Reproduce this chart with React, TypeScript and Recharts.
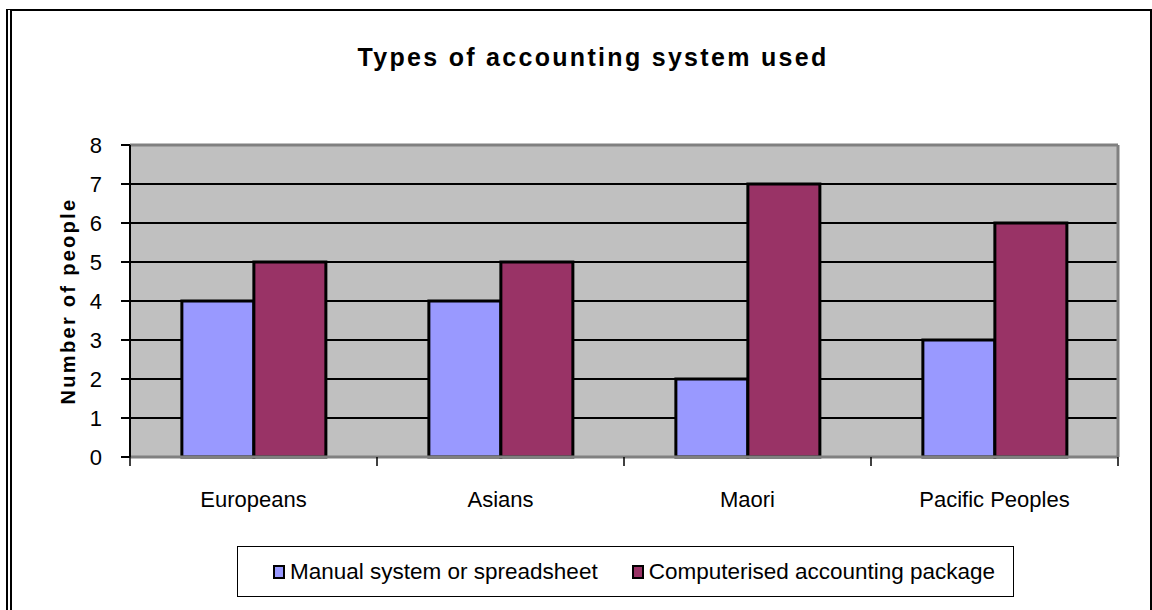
import React from "react";
import { Bar, BarChart, CartesianGrid, XAxis, YAxis } from "recharts";

const groups = ["Europeans", "Asians", "Maori", "Pacific Peoples"];
const manualSystem = [4, 4, 2, 3];
const computerised = [5, 5, 7, 6];
const countTicks = [0, 1, 2, 3, 4, 5, 6, 7, 8];

const FONT = '"Liberation Sans", Arial, sans-serif';
const BLUE = "#9999FF";
const PLUM = "#993366";

const data = groups.map((g, i) => ({
  group: g,
  manual: manualSystem[i],
  computer: computerised[i],
}));

// group label plus short tick marks on the band boundaries
function GroupTick(props: any) {
  const { x, y, payload, index, visibleTicksCount } = props;
  const half = payload?.offset ?? 0;
  const mark = (px: number, key: string) => (
    <line key={key} x1={px} x2={px} y1={y} y2={y + 9} stroke="#000" strokeWidth={1.5} />
  );
  return (
    <g>
      {mark(x - half, "l")}
      {index === visibleTicksCount - 1 ? mark(x + half, "r") : null}
      <text
        x={x}
        y={y + 34}
        dy="0.71em"
        textAnchor="middle"
        fontSize={22}
        fontFamily={FONT}
        fill="#000"
      >
        {payload.value}
      </text>
    </g>
  );
}

function LegendItem({ color, label }: { color: string; label: string }) {
  return (
    <span style={{ display: "inline-flex", alignItems: "center" }}>
      <span
        style={{
          display: "inline-block",
          width: 8,
          height: 10,
          background: color,
          border: "2px solid #000",
          marginRight: 5,
        }}
      />
      <span>{label}</span>
    </span>
  );
}

export default function App() {
  return (
    <div
      style={{
        position: "absolute",
        left: 0,
        top: 0,
        width: 1152,
        height: 610,
        overflow: "hidden",
        background: "#fff",
        fontFamily: FONT,
      }}
    >
      <div
        style={{
          position: "absolute",
          left: 6,
          top: 9,
          width: 1138,
          height: 620,
          borderTop: "2px solid #000",
          borderRight: "2px solid #000",
          borderLeft: "6px double #000",
        }}
      />
      <div
        style={{
          position: "absolute",
          left: 0,
          width: 1186,
          top: 43,
          textAlign: "center",
          fontSize: 25,
          fontWeight: 700,
          letterSpacing: 2.3,
          color: "#000",
        }}
      >
        Types of accounting system used
      </div>
      <div
        style={{
          position: "absolute",
          left: 68,
          top: 301,
          transform: "translate(-50%, -50%) rotate(-90deg)",
          whiteSpace: "nowrap",
          fontSize: 20,
          fontWeight: 700,
          letterSpacing: 2.3,
          color: "#000",
        }}
      >
        Number of people
      </div>

      <BarChart
        width={1152}
        height={610}
        data={data}
        margin={{ top: 144, right: 33, left: 70, bottom: 113 }}
        barGap={0}
        barCategoryGap="21%"
      >
        <CartesianGrid
          horizontal
          vertical={false}
          fill="#C0C0C0"
          fillOpacity={1}
          stroke="#000"
          strokeWidth={2}
        />
        <XAxis
          dataKey="group"
          height={40}
          interval={0}
          axisLine={{ stroke: "#808080", strokeWidth: 3 }}
          tickLine={false}
          tickSize={0}
          tickMargin={0}
          tick={<GroupTick />}
        />
        <XAxis
          xAxisId="top"
          orientation="top"
          dataKey="group"
          height={1}
          tick={false}
          tickLine={false}
          axisLine={{ stroke: "#808080", strokeWidth: 3 }}
        />
        <YAxis
          domain={[0, 8]}
          ticks={countTicks}
          width={60}
          axisLine={{ stroke: "#000", strokeWidth: 2 }}
          tickLine={{ stroke: "#000", strokeWidth: 2 }}
          tickSize={9}
          tickMargin={19}
          tick={{ fontSize: 22, fill: "#000", fontFamily: FONT }}
        />
        <YAxis
          yAxisId="right"
          orientation="right"
          domain={[0, 8]}
          width={1}
          tick={false}
          tickLine={false}
          axisLine={{ stroke: "#808080", strokeWidth: 3 }}
        />
        <Bar
          dataKey="manual"
          name="Manual system or spreadsheet"
          fill={BLUE}
          stroke="#000"
          strokeWidth={3}
          isAnimationActive={false}
        />
        <Bar
          dataKey="computer"
          name="Computerised accounting package"
          fill={PLUM}
          stroke="#000"
          strokeWidth={3}
          isAnimationActive={false}
        />
      </BarChart>

      <div
        style={{
          position: "absolute",
          left: 237,
          top: 546,
          width: 777,
          height: 51,
          border: "1.5px solid #000",
          boxSizing: "border-box",
          display: "flex",
          alignItems: "center",
          paddingLeft: 35,
          gap: 34,
          fontSize: 22.5,
          color: "#000",
        }}
      >
        <LegendItem color={BLUE} label="Manual system or spreadsheet" />
        <LegendItem color={PLUM} label="Computerised accounting package" />
      </div>
    </div>
  );
}
